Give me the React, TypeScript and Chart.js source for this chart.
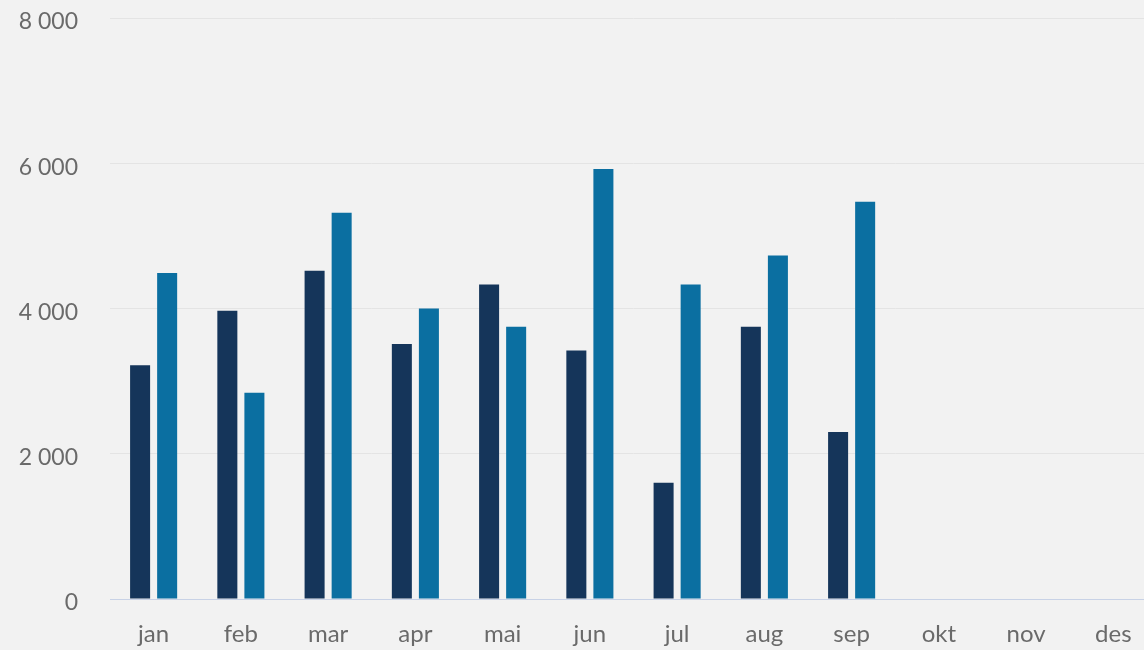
import React, { useEffect, useRef } from "react";
import { Chart, registerables } from "chart.js";

Chart.register(...registerables);

const categories = ["jan", "feb", "mar", "apr", "mai", "jun", "jul", "aug", "sep", "okt", "nov", "des"];
const seriesDark = [3220, 3970, 4520, 3510, 4330, 3420, 1600, 3750, 2300, null, null, null];
const seriesLight = [4490, 2840, 5320, 4000, 3750, 5920, 4330, 4730, 5470, null, null, null];
const yTicks = [0, 2000, 4000, 6000, 8000];

const fmt = (v: number) => String(v).replace(/\B(?=(\d{3})+(?!\d))/g, " ");

export default function App() {
  const ref = useRef<HTMLCanvasElement | null>(null);
  useEffect(() => {
    if (!ref.current) return;
    const bg = {
      id: "bg",
      beforeDraw(c: any) {
        const ctx = c.ctx;
        ctx.save();
        ctx.fillStyle = "#f2f2f2";
        ctx.fillRect(0, 0, c.width, c.height);
        ctx.restore();
      },
    };
    const chart = new Chart(ref.current, {
      type: "bar",
      data: {
        labels: categories,
        datasets: [
          { label: "Serie 1", data: seriesDark as any, backgroundColor: "#15355a", barPercentage: 0.74, categoryPercentage: 0.62 },
          { label: "Serie 2", data: seriesLight as any, backgroundColor: "#0b6fa1", barPercentage: 0.74, categoryPercentage: 0.62 },
        ],
      },
      options: {
        responsive: false,
        animation: false,
        devicePixelRatio: 1,
        layout: { padding: { top: 18, right: 3, left: 0, bottom: 0 } },
        plugins: { legend: { display: false }, tooltip: { enabled: false } },
        scales: {
          x: {
            grid: { display: false },
            border: { display: true, color: "#c8d2e6", width: 1 },
            ticks: {
              color: "#6a6a6a",
              font: { family: "Lato", size: 24 },
              padding: 13,
              maxRotation: 0,
            },
            afterFit(s: any) {
              s.height = 51;
              s.paddingLeft = 0;
              s.paddingRight = 0;
            },
          },
          y: {
            min: 0,
            max: 8000,
            afterBuildTicks(s: any) {
              s.ticks = yTicks.map((v) => ({ value: v }));
            },
            grid: {
              color: (c: any) => (c.tick && c.tick.value === 0 ? "rgba(0,0,0,0)" : "#e4e4e4"),
              drawTicks: false,
              lineWidth: 1,
            },
            border: { display: false },
            ticks: {
              color: "#6a6a6a",
              font: { family: "Lato", size: 23 },
              padding: 32,
              labelOffset: 4,
              callback: (v: any) => fmt(Number(v)),
            },
            afterFit(s: any) {
              s.width = 110;
              s.paddingTop = 0;
              s.paddingBottom = 0;
            },
          },
        },
      },
      plugins: [bg],
    } as any);
    return () => chart.destroy();
  }, []);
  return (
    <div style={{ position: "fixed", top: 0, left: 0, width: 1144, height: 650, overflow: "hidden", background: "#f2f2f2" }}>
      <canvas ref={ref} width={1160} height={650} style={{ display: "block" }} />
    </div>
  );
}
